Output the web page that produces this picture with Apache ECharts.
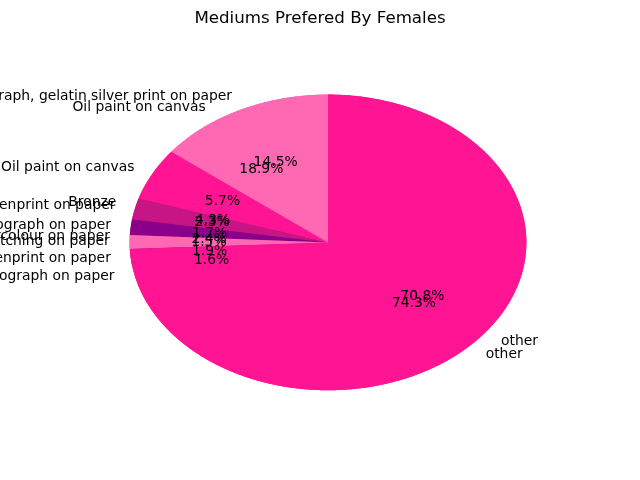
<!DOCTYPE html>
<html>
<head>
<meta charset="utf-8">
<script src="https://cdn.jsdelivr.net/npm/echarts@6/dist/echarts.min.js"></script>
<style>
html,body{margin:0;padding:0;background:#fff;}
#chart{width:640px;height:480px;}
</style>
</head>
<body>
<div id="chart"></div>
<script>
// Pie drawn first (underneath)
const labelsA = ['Oil paint on canvas', 'Bronze', 'Watercolour on paper', 'Screenprint on paper', 'Lithograph on paper', 'other'];
const valuesA = [18.9, 4.3, 2.4, 1.9, 1.6, 70.8];
// Pie drawn second (on top)
const labelsB = ['Photograph, gelatin silver print on paper', 'Oil paint on canvas', 'Screenprint on paper', 'Lithograph on paper', 'Etching on paper', 'other'];
const valuesB = [14.5, 5.7, 2.3, 1.7, 1.5, 74.3];
const sliceColors = ['#FF69B4', '#FF1493', '#C71585', '#8B008B'];
const titleText = 'Mediums Prefered By Females';

const FONT = '13.89px "DejaVu Sans"';
const CX = 328, CY = 242.4, RX = 198.4, RY = 147.84;

function angles(values) {
  const total = values.reduce((a, b) => a + b, 0);
  let cur = 90;
  return values.map(v => {
    const a0 = cur;
    const a1 = cur + v / total * 360;
    cur = a1;
    return [a0, a1];
  });
}

function wedgeSeries(labels, values, z) {
  const ang = angles(values);
  return {
    type: 'custom',
    coordinateSystem: 'none',
    z: z,
    silent: true,
    data: values.map((v, i) => [i, v]),
    renderItem: function (params, api) {
      const i = api.value(0);
      const [a0, a1] = ang[i];
      const pts = [[CX, CY]];
      const steps = Math.max(4, Math.ceil((a1 - a0) / 0.5));
      for (let k = 0; k <= steps; k++) {
        const t = (a0 + (a1 - a0) * k / steps) * Math.PI / 180;
        pts.push([CX + RX * Math.cos(t), CY - RY * Math.sin(t)]);
      }
      return {
        type: 'polygon',
        shape: { points: pts },
        style: { fill: sliceColors[i % sliceColors.length], stroke: null }
      };
    }
  };
}

function textSeries(labels, values, z) {
  const ang = angles(values);
  return {
    type: 'custom',
    coordinateSystem: 'none',
    z: z,
    silent: true,
    data: values.map((v, i) => [i, v]),
    renderItem: function (params, api) {
      const i = api.value(0);
      const v = api.value(1);
      const [a0, a1] = ang[i];
      const mid = (a0 + a1) / 2 * Math.PI / 180;
      const c = Math.cos(mid), s = Math.sin(mid);
      const lx = CX + 1.1 * RX * c, ly = CY - 1.1 * RY * s;
      const px = CX + 0.6 * RX * c, py = CY - 0.6 * RY * s;
      return {
        type: 'group',
        children: [
          {
            type: 'text', x: lx, y: ly,
            style: { text: labels[i], fill: '#000', font: FONT, align: c < 0 ? 'right' : 'left', verticalAlign: 'middle' }
          },
          {
            type: 'text', x: px, y: py,
            style: { text: v.toFixed(1) + '%', fill: '#000', font: FONT, align: 'center', verticalAlign: 'middle' }
          }
        ]
      };
    }
  };
}

const chart = echarts.init(document.getElementById('chart'), null, { renderer: 'canvas' });
chart.setOption({
  animation: false,
  backgroundColor: '#ffffff',
  title: {
    text: titleText,
    left: 'center',
    top: 5,
    textStyle: { fontFamily: 'DejaVu Sans', fontSize: 16.67, fontWeight: 'normal', color: '#000' }
  },
  series: [
    wedgeSeries(labelsA, valuesA, 1),
    wedgeSeries(labelsB, valuesB, 2),
    textSeries(labelsA, valuesA, 3),
    textSeries(labelsB, valuesB, 4)
  ]
});
</script>
</body>
</html>
